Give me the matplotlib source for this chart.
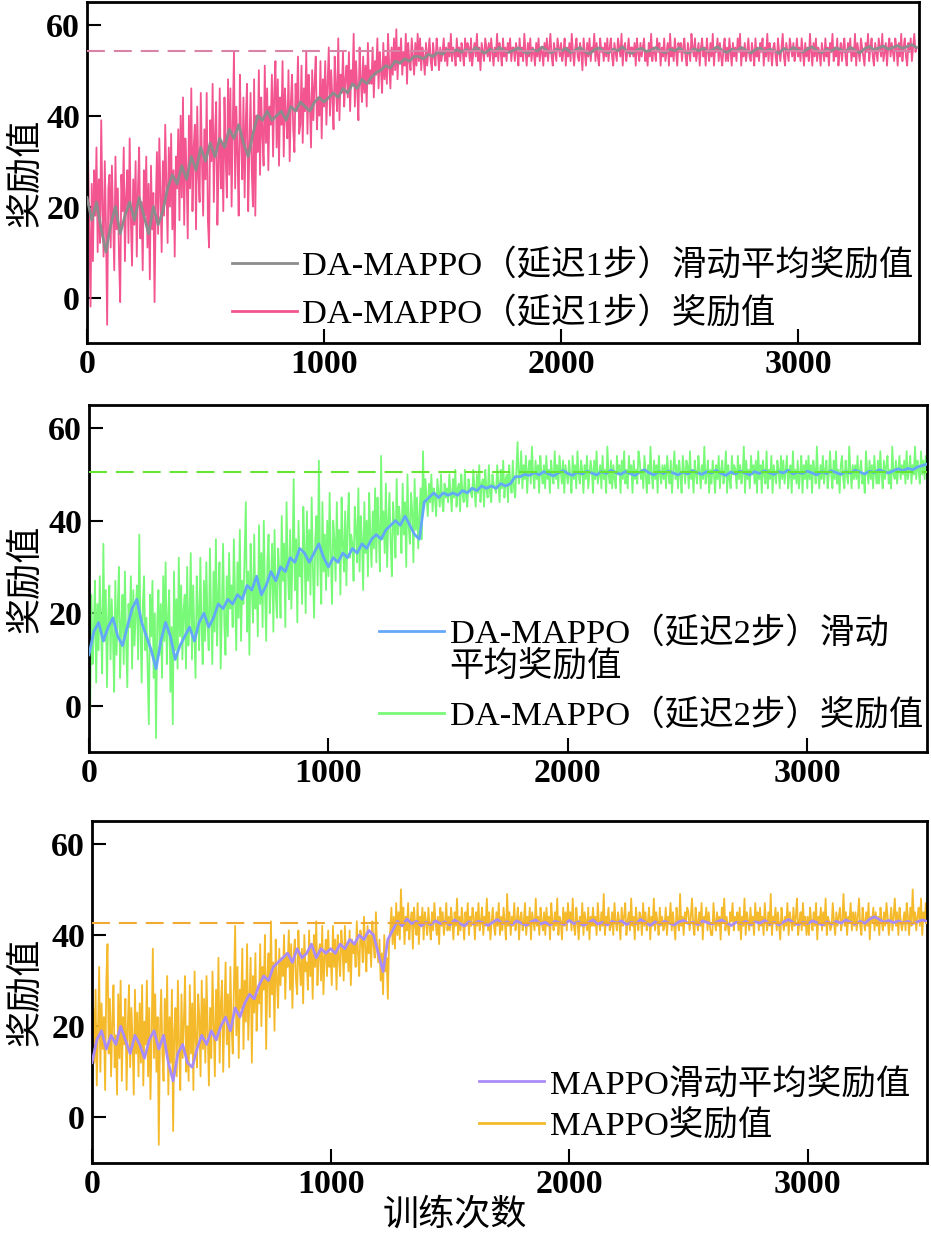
import numpy as np
import matplotlib
matplotlib.use("Agg")
import matplotlib.pyplot as plt
from matplotlib.legend_handler import HandlerLine2D

# ---------------- data ----------------
steps_raw = np.arange(0, 3501, 5)
steps_ma = np.arange(0, 3501, 20)

raw1 = [
    22, 30, 14, -2, 25, 8, 28, 18, 33, 10, 26, 12, 39, 20, 9, 30, 16, -6, 24, 27,
    11, 29, 18, 6, 31, 15, 24, 9, -1, 27, 19, 33, 8, 22, 28, 12, 35, 17, 7, 26,
    16, 30, 9, 24, 33, 13, 21, 6, 28, 18, 31, 11, 25, 4, 29, 15, 23, -1, 20, 32,
    14, 35, 22, 10, 30, 18, 38, 25, 12, 33, 20, 36, 15, 28, 9, 31, 24, 37, 17, 40,
    22, 44, 16, 35, 28, 13, 40, 24, 46, 19, 33, 38, 15, 42, 27, 21, 45, 30, 18, 37,
    26, 45, 17, 11, 39, 30, 47, 21, 36, 43, 16, 28, 46, 24, 34, 19, 44, 31, 22, 48,
    27, 46, 20, 38, 54, 24, 42, 31, 18, 49, 35, 26, 44, 22, 39, 47, 19, 33, 45, 28,
    20, 48, 18, 40, 32, 50, 27, 44, 36, 29, 51, 34, 46, 28, 42, 38, 49, 31, 45, 52,
    33, 48, 29, 44, 38, 52, 31, 46, 40, 35, 50, 30, 43, 49, 37, 32, 47, 41, 53, 36,
    38, 51, 34, 46, 41, 54, 36, 49, 43, 33, 50, 39, 47, 53, 37, 44, 40, 52, 35, 48,
    42, 52, 38, 47, 55, 40, 50, 44, 37, 53, 46, 41, 57, 39, 49, 45, 54, 42, 48, 51,
    44, 54, 41, 50, 47, 58, 42, 52, 46, 39, 55, 48, 43, 53, 45, 51, 42, 56, 47, 50,
    47, 55, 44, 52, 49, 57, 46, 54, 50, 45, 56, 48, 53, 47, 58, 51, 46, 55, 49, 57,
    50, 59, 48, 55, 52, 57, 49, 54, 51, 58, 47, 56, 52, 50, 57, 53, 49, 56, 51, 58,
    52, 57, 50, 55, 53, 49, 56, 51, 54, 57, 52, 50, 56, 53, 51, 57, 54, 50, 55, 52,
    54, 57, 52, 55, 51, 56, 53, 58, 52, 55, 54, 51, 57, 53, 55, 52, 56, 54, 51, 57,
    53, 56, 55, 52, 57, 51, 54, 56, 53, 58, 52, 55, 50, 56, 54, 52, 57, 55, 53, 56,
    52, 57, 54, 51, 55, 53, 58, 52, 56, 54, 51, 57, 53, 55, 52, 56, 54, 57, 52, 55,
    55, 52, 56, 54, 51, 57, 53, 55, 52, 58, 54, 51, 56, 53, 57, 52, 55, 54, 51, 56,
    53, 57, 52, 55, 54, 51, 56, 53, 57, 52, 55, 58, 53, 51, 56, 54, 52, 57, 55, 53,
    56, 52, 54, 57, 51, 55, 53, 56, 52, 58, 54, 51, 55, 57, 53, 52, 56, 54, 50, 57,
    54, 51, 56, 53, 57, 52, 55, 54, 58, 52, 56, 53, 51, 57, 54, 55, 52, 56, 53, 57,
    52, 55, 57, 53, 51, 56, 54, 52, 57, 55, 53, 58, 51, 55, 56, 52, 54, 57, 53, 55,
    55, 53, 56, 51, 57, 54, 52, 56, 53, 55, 57, 52, 54, 51, 56, 53, 58, 52, 55, 54,
    52, 57, 54, 56, 51, 55, 53, 57, 52, 54, 56, 51, 58, 53, 55, 52, 57, 54, 51, 56,
    54, 56, 52, 55, 57, 53, 51, 56, 54, 52, 58, 55, 53, 57, 52, 54, 56, 51, 55, 57,
    53, 55, 51, 57, 54, 52, 56, 53, 58, 51, 55, 54, 57, 52, 56, 53, 51, 55, 57, 52,
    55, 52, 57, 54, 51, 56, 53, 55, 52, 57, 54, 58, 51, 55, 53, 56, 52, 54, 57, 53,
    52, 56, 54, 51, 57, 53, 55, 52, 56, 54, 57, 51, 55, 53, 58, 52, 56, 54, 51, 55,
    56, 53, 51, 57, 54, 52, 55, 58, 53, 51, 56, 54, 52, 57, 55, 53, 56, 52, 54, 57,
    53, 55, 52, 57, 54, 51, 56, 53, 55, 52, 58, 54, 51, 56, 53, 57, 52, 55, 54, 51,
    56, 54, 52, 57, 53, 55, 51, 56, 54, 58, 52, 55, 53, 57, 51, 54, 56, 52, 55, 57,
    53, 51, 56, 54, 57, 52, 55, 53, 58, 51, 56, 54, 52, 57, 55, 53, 51, 56, 54, 58,
    52, 55, 57, 53, 51, 56, 54, 52, 57, 55, 53, 58, 52, 54, 56, 51, 55, 57, 53, 56,
    54, 52, 57, 55, 51, 56, 53, 58, 52, 55, 57, 53, 51, 56, 54, 57, 52, 55, 58, 54,
    55,
]

ma1 = [
    22, 17, 21, 15, 10, 16, 20, 14, 18, 21,
    17, 22, 18, 14, 20, 16, 19, 24, 27, 25,
    29, 26, 31, 28, 33, 30, 34, 31, 35, 33,
    37, 35, 38, 34, 31, 36, 40, 39, 41, 39,
    40, 41, 39, 42, 41, 43, 42, 41, 43, 44,
    43, 44, 45, 44, 46, 45, 47, 46, 48, 47,
    48.5, 49.5, 50, 51, 50.5, 52, 51.5, 52.5, 52, 53,
    53, 52.5, 53.5, 53, 54, 53.5, 54.5, 54, 54.5, 54,
    54.5, 54, 55, 54.2, 53.8, 54.6, 54.1, 55, 54.3, 53.9,
    54.4, 54.9, 54.1, 53.7, 54.5, 54.2, 55.1, 54.3, 53.8, 54.6,
    54.2, 54.8, 53.9, 54.4, 55, 54.1, 53.6, 54.5, 54.9, 54.2,
    53.8, 54.6, 54.3, 55.1, 54, 53.7, 54.5, 54.8, 54.1, 54.4,
    55, 54.2, 53.9, 54.6, 54.3, 54.9, 54, 53.8, 54.7, 54.3,
    54.8, 54.1, 54.5, 55.2, 54.3, 53.9, 54.6, 54.2, 55, 54.4,
    53.8, 54.5, 54.9, 54.1, 54.6, 54.3, 53.7, 54.8, 54.2, 55,
    54.4, 54, 54.7, 55.1, 54.3, 53.9, 54.6, 54.2, 54.9, 54.5,
    54.1, 55, 54.4, 53.8, 54.7, 55.2, 54.5, 54.9, 55.3, 54.6,
    55, 55.4, 54.8, 55.2, 55.6, 55,
]

raw2 = [
    20, -1, 24, 9, 16, 27, 5, 22, 12, 28, 18, 7, 35, 14, 25, 4, 19, 26, 10, 23,
    15, 3, 27, 11, 21, 30, 6, 18, 24, 9, 29, 14, 4, 22, 17, 28, 8, 25, 13, 20,
    26, 10, 37, 16, 5, 22, 28, 12, 19, 8, -4, 24, 15, 27, 6, 20, -7, 18, 25, 11,
    22, 6, 28, 14, 31, 9, 19, 25, 3, 17, -4, 29, 12, 23, 8, 32, 15, 26, 10, 21,
    24, 8, 30, 13, 19, 33, 10, 26, 16, 6, 28, 21, 12, 32, 17, 9, 27, 14, 31, 18,
    12, 34, 20, 9, 29, 16, 36, 13, 24, 31, 8, 22, 35, 18, 11, 28, 15, 33, 21, 26,
    17, 36, 24, 12, 31, 19, 38, 14, 27, 22, 33, 44, 16, 29, 11, 35, 25, 18, 37, 21,
    28, 15, 39, 22, 33, 17, 40, 25, 14, 31, 37, 20, 27, 35, 16, 38, 24, 19, 34, 29,
    19, 41, 27, 35, 17, 44, 30, 23, 38, 21, 32, 49, 25, 36, 18, 40, 28, 33, 22, 43,
    34, 20, 42, 27, 38, 24, 45, 30, 19, 36, 41, 26, 53, 32, 22, 44, 29, 37, 25, 40,
    28, 46, 33, 22, 40, 36, 27, 44, 31, 38, 24, 45, 35, 29, 42, 26, 39, 46, 32, 37,
    35, 27, 43, 38, 31, 47, 29, 41, 36, 25, 44, 33, 40, 28, 46, 37, 30, 42, 34, 47,
    31, 45, 38, 29, 54, 36, 42, 33, 48, 30, 40, 46, 35, 28, 44, 39, 32, 49, 37, 43,
    40, 33, 48, 37, 44, 30, 50, 39, 35, 46, 42, 31, 49, 38, 45, 34, 41, 47, 36, 55,
    43, 49, 45, 41, 48, 44, 50, 42, 47, 45, 41, 49, 46, 43, 50, 44, 42, 48, 45, 47,
    44, 50, 46, 42, 49, 45, 51, 43, 47, 48, 42, 50, 46, 44, 51, 45, 43, 49, 47, 46,
    45, 51, 47, 43, 50, 46, 52, 44, 48, 49, 43, 51, 47, 45, 52, 46, 44, 50, 48, 47,
    46, 52, 48, 44, 51, 47, 53, 45, 49, 50, 44, 52, 48, 46, 53, 47, 45, 51, 57, 48,
    50, 55, 47, 52, 49, 54, 46, 51, 53, 48, 56, 50, 47, 53, 49, 52, 46, 54, 50, 48,
    52, 47, 54, 49, 51, 46, 53, 50, 48, 55, 49, 52, 47, 54, 51, 48, 53, 46, 52, 50,
    48, 53, 50, 46, 54, 49, 52, 47, 55, 50, 48, 53, 51, 46, 52, 49, 54, 47, 50, 53,
    51, 46, 53, 49, 55, 48, 50, 52, 47, 54, 49, 51, 46, 56, 50, 48, 53, 47, 52, 49,
    47, 54, 50, 52, 46, 53, 49, 55, 48, 51, 47, 54, 50, 52, 46, 53, 49, 51, 48, 55,
    53, 49, 51, 47, 54, 50, 46, 52, 48, 56, 50, 47, 53, 49, 52, 46, 54, 50, 48, 52,
    49, 52, 47, 54, 50, 48, 53, 46, 51, 55, 49, 52, 47, 53, 50, 46, 54, 51, 48, 53,
    52, 47, 55, 49, 51, 46, 53, 50, 48, 54, 51, 47, 52, 49, 56, 48, 50, 53, 46, 51,
    48, 53, 50, 46, 52, 49, 54, 47, 51, 53, 48, 50, 55, 46, 52, 49, 47, 54, 50, 52,
    51, 47, 54, 49, 52, 48, 50, 56, 46, 53, 49, 51, 47, 54, 50, 52, 48, 53, 46, 55,
    49, 52, 46, 53, 50, 48, 55, 47, 51, 49, 54, 46, 52, 50, 48, 53, 51, 47, 54, 49,
    53, 48, 51, 54, 47, 50, 52, 46, 55, 49, 51, 48, 53, 47, 50, 54, 46, 52, 49, 53,
    47, 54, 49, 52, 46, 53, 51, 48, 56, 50, 47, 52, 49, 54, 48, 51, 53, 47, 50, 55,
    50, 47, 53, 49, 55, 48, 51, 46, 52, 54, 49, 47, 53, 50, 48, 56, 51, 47, 52, 49,
    52, 49, 54, 47, 51, 53, 48, 50, 46, 55, 51, 48, 53, 49, 52, 47, 54, 50, 48, 53,
    48, 55, 50, 47, 53, 49, 52, 54, 48, 51, 47, 56, 50, 49, 53, 48, 51, 54, 49, 52,
    50, 53, 48, 55, 49, 51, 54, 48, 52, 50, 56, 49, 53, 51, 48, 55, 50, 53, 49, 54,
    52,
]

ma2 = [
    11, 16, 18, 14, 17, 19, 15, 13, 17, 21,
    23, 18, 15, 12, 8, 14, 18, 15, 10, 13,
    15, 17, 14, 18, 20, 17, 19, 22, 21, 23,
    22, 24, 23, 26, 25, 28, 24, 26, 29, 27,
    30, 29, 32, 31, 34, 33, 31, 33, 35, 32,
    30, 32, 31, 33, 32, 34, 33, 35, 34, 36,
    37, 36, 38, 39, 40, 39, 41, 39, 37, 36,
    44, 45, 46, 45, 46, 45.5, 46, 45.5, 46.5, 46,
    47, 46.5, 47.5, 47, 47.5, 47, 48, 47.5, 48, 49.5,
    49.5, 50, 49.8, 50.4, 49.9, 50.6, 50.1, 49.7, 50.3, 50.8,
    50.2, 49.8, 50.5, 50.1, 50.7, 50.3, 49.9, 50.6, 50.2, 50.9,
    50.4, 50, 50.6, 50.2, 49.8, 50.5, 51, 50.3, 49.9, 50.6,
    50.2, 50.7, 50.3, 49.9, 50.5, 50.1, 50.8, 50.4, 50, 50.6,
    50.3, 50.9, 50.2, 49.8, 50.5, 50.1, 50.7, 50.3, 49.9, 50.6,
    50.2, 50.8, 50.4, 50, 50.6, 50.3, 50.9, 50.1, 50.5, 50.2,
    50.7, 50.3, 49.9, 50.6, 50.2, 50.8, 50.4, 50, 50.6, 50.3,
    50.9, 50.5, 50.1, 50.7, 50.4, 51, 50.6, 50.3, 50.8, 51.2,
    50.8, 51.3, 51, 51.6, 51.9, 52.2,
]

raw3 = [
    -1, 24, 12, 28, 7, 19, 33, 10, 25, 15, 22, 6, 30, 38, 14, 26, 9, 21, 29, 11,
    18, 5, 27, 13, 30, 8, 22, 16, 26, 6, 20, 29, 11, 24, 17, 5, 28, 14, 23, 9,
    25, 12, 29, 7, 21, 16, 30, 9, 24, 4, 18, 37, 13, 27, 10, 22, -6, 19, 28, 14,
    8, 26, 15, 31, 5, 22, 12, 28, -3, 19, 24, 9, 30, 16, 6, 27, 13, 21, 31, 10,
    20, 8, 29, 14, 25, 6, 32, 17, 11, 27, 22, 9, 30, 15, 26, 12, 31, 19, 7, 24,
    13, 32, 21, 9, 28, 17, 35, 12, 25, 30, 10, 23, 34, 16, 27, 11, 33, 20, 14, 29,
    42, 18, 33, 13, 28, 24, 37, 15, 30, 21, 38, 17, 26, 35, 12, 31, 23, 36, 19, 27,
    25, 38, 20, 33, 28, 40, 15, 31, 36, 22, 43, 27, 34, 19, 39, 30, 24, 37, 29, 35,
    31, 40, 26, 36, 33, 41, 28, 38, 24, 35, 39, 30, 27, 41, 34, 29, 37, 25, 40, 32,
    34, 28, 41, 31, 37, 26, 40, 33, 43, 29, 36, 38, 30, 42, 27, 35, 39, 31, 41, 33,
    36, 29, 42, 33, 39, 28, 40, 35, 31, 41, 37, 30, 42, 34, 38, 32, 41, 29, 39, 36,
    38, 33, 43, 36, 31, 41, 39, 34, 44, 37, 32, 42, 36, 40, 33, 43, 38, 35, 45, 37,
    34, 39, 30, 36, 27, 40, 32, 35, 26, 38, 41, 46, 38, 44, 37, 47, 40, 45, 39, 50,
    42, 46, 38, 44, 41, 47, 39, 43, 45, 37, 46, 42, 40, 47, 38, 44, 42, 46, 39, 45,
    43, 40, 46, 42, 39, 45, 41, 47, 43, 40, 44, 38, 46, 42, 45, 40, 43, 47, 41, 44,
    41, 46, 43, 39, 45, 42, 48, 40, 44, 41, 46, 43, 39, 45, 42, 47, 40, 44, 42, 46,
    44, 39, 45, 42, 47, 41, 43, 46, 40, 44, 42, 48, 41, 45, 39, 43, 46, 42, 40, 45,
    42, 47, 40, 44, 41, 46, 43, 39, 49, 42, 45, 40, 44, 42, 47, 41, 43, 46, 39, 44,
    45, 41, 43, 47, 40, 44, 42, 46, 39, 45, 43, 41, 48, 42, 44, 40, 46, 43, 41, 45,
    40, 46, 42, 44, 39, 47, 43, 41, 45, 42, 48, 40, 44, 43, 39, 46, 42, 45, 41, 47,
    43, 45, 41, 48, 42, 40, 46, 43, 39, 44, 42, 47, 40, 45, 43, 41, 46, 39, 44, 42,
    46, 42, 44, 40, 47, 43, 41, 45, 42, 49, 40, 44, 43, 46, 41, 42, 45, 40, 47, 43,
    41, 45, 43, 39, 46, 42, 44, 47, 40, 43, 45, 41, 48, 42, 44, 39, 46, 43, 41, 45,
    44, 40, 47, 42, 45, 41, 43, 46, 39, 44, 42, 48, 41, 45, 43, 40, 46, 42, 44, 41,
    42, 46, 40, 44, 43, 47, 41, 45, 42, 39, 46, 43, 41, 49, 42, 44, 40, 45, 43, 46,
    45, 41, 44, 48, 42, 40, 46, 43, 41, 45, 42, 47, 39, 44, 43, 46, 41, 45, 42, 40,
    40, 47, 43, 41, 45, 42, 44, 39, 46, 43, 48, 41, 44, 42, 40, 45, 43, 47, 41, 44,
    43, 45, 41, 46, 39, 44, 42, 48, 40, 45, 43, 41, 46, 42, 44, 40, 47, 43, 45, 41,
    46, 42, 44, 40, 47, 43, 41, 45, 42, 49, 40, 44, 43, 46, 41, 45, 42, 39, 46, 43,
    41, 44, 42, 47, 40, 45, 43, 41, 46, 42, 44, 48, 40, 43, 45, 41, 47, 42, 44, 40,
    44, 40, 46, 43, 41, 45, 42, 47, 39, 44, 43, 46, 41, 45, 42, 48, 40, 44, 43, 41,
    42, 47, 43, 40, 45, 42, 44, 46, 41, 43, 49, 42, 45, 40, 44, 43, 47, 41, 45, 42,
    45, 41, 44, 48, 42, 40, 46, 43, 41, 45, 42, 47, 39, 44, 43, 46, 41, 45, 42, 44,
    40, 46, 43, 41, 45, 42, 47, 44, 40, 43, 46, 41, 44, 48, 42, 45, 40, 46, 43, 41,
    43, 45, 41, 47, 44, 40, 46, 42, 50, 43, 45, 41, 44, 46, 42, 48, 40, 45, 43, 47,
    43,
]

ma3 = [
    12, 17, 19, 15, 18, 16, 20, 17, 14, 18,
    16, 13, 17, 19, 15, 18, 12, 8, 14, 16,
    12, 11, 15, 18, 16, 19, 17, 20, 22, 19,
    24, 22, 25, 27, 26, 29, 31, 30, 33, 34,
    35, 36, 34, 37, 35, 36, 38, 35, 37, 36,
    37, 36, 38, 37, 39, 38, 40, 39, 41, 40,
    36, 32, 39, 41, 43, 42, 43.5, 42.5, 43, 42,
    42.8, 42.3, 43.1, 42.5, 42.9, 42.2, 43.3, 42.6, 42, 42.9,
    42.4, 43, 42.7, 42.1, 42.8, 43.4, 42.5, 42.9, 42.3, 43.1,
    42.6, 42.1, 42.9, 43.3, 42.4, 42.8, 42.2, 43, 42.7, 42.3,
    43.2, 42.5, 42.9, 42.1, 42.7, 43.3, 42.4, 42.8, 42.2, 43,
    42.6, 43.1, 42.3, 42.8, 42.5, 43.4, 42.7, 42.1, 42.9, 42.4,
    43, 42.6, 42.2, 42.9, 43.2, 42.5, 42.8, 42.3, 43.1, 42.7,
    42.4, 42.9, 43.3, 42.6, 42.1, 42.8, 42.5, 43, 42.3, 42.9,
    42.6, 43.2, 42.4, 42.8, 42.2, 42.9, 43.4, 42.7, 42.3, 42.8,
    42.5, 43.1, 42.7, 42.2, 42.9, 42.4, 43, 42.6, 43.3, 42.8,
    42.4, 43, 42.6, 43.5, 44, 43.4, 42.8, 43.2, 42.7, 43.1,
    42.6, 43, 42.5, 42.9, 43.3, 43,
]

ref_levels = [54.3, 50.5, 42.7]

labels_ma = ["DA-MAPPO（延迟1步）滑动平均奖励值",
             "DA-MAPPO（延迟2步）滑动\n平均奖励值",
             "MAPPO滑动平均奖励值"]
labels_raw = ["DA-MAPPO（延迟1步）奖励值",
              "DA-MAPPO（延迟2步）奖励值",
              "MAPPO奖励值"]
ylabel = "奖励值"
xlabel = "训练次数"
xticks = [0, 1000, 2000, 3000]
yticks = [0, 20, 40, 60]

# ---------------- styles ----------------
raw_colors = ["#F25590", "#78FA78", "#F4BA2C"]
ma_colors = ["#8C8C8C", "#64A8F8", "#A98CF8"]
dash_colors = ["#D884A8", "#66E633", "#F0AA33"]

positions = [
    [87 / 931, 1 - 343 / 1234, 832 / 931, 341 / 1234],
    [89 / 931, 1 - 752 / 1234, 838 / 931, 347 / 1234],
    [92 / 931, 1 - 1163 / 1234, 835 / 931, 342 / 1234],
]
xmaxes = [3510, 3500, 3500]
legend_anchor = [(0.174, 0.275), (0.346, 0.39), (0.4635, 0.278)]
legend_spacing = [0.44, 0.47, 0.27]
ylabel_x = [-0.0745, -0.076, -0.080]

FS = 24.5
LFS = 24.8
YLFS = 26
serif_cjk = ["Liberation Serif", "Noto Sans CJK SC"]
plt.rcParams["font.size"] = FS
plt.rcParams["font.family"] = serif_cjk


class TopHandler(HandlerLine2D):
    """Legend handle aligned with the first line of a two-line label."""
    def __init__(self, shift, **kw):
        super().__init__(**kw)
        self.shift = shift

    def create_artists(self, legend, orig_handle, xdescent, ydescent,
                       width, height, fontsize, trans):
        arts = super().create_artists(legend, orig_handle, xdescent, ydescent,
                                      width, height, fontsize, trans)
        for a in arts:
            yd = np.asarray(a.get_ydata(), dtype=float)
            a.set_ydata(yd + self.shift)
        return arts


fig = plt.figure(figsize=(9.31, 12.34), dpi=100)

for i in range(3):
    ax = fig.add_axes(positions[i])
    raw = [raw1, raw2, raw3][i]
    ma = [ma1, ma2, ma3][i]
    l_raw, = ax.plot(steps_raw, raw, color=raw_colors[i], lw=1.3, zorder=2,
                     label=labels_raw[i])
    l_ma, = ax.plot(steps_ma, ma, color=ma_colors[i], lw=2.0, zorder=3,
                    label=labels_ma[i])
    ax.plot([0, 3500], [ref_levels[i], ref_levels[i]], color=dash_colors[i],
            lw=1.5, ls=(0, (8.6, 4.3)), zorder=4)

    ax.set_xlim(0, xmaxes[i])
    ax.set_ylim(-10, 65)
    ax.set_xticks(xticks)
    ax.set_yticks(yticks)
    ax.tick_params(direction="in", length=10, width=1.5, top=False, right=False)
    ax.tick_params(axis="y", pad=5)
    ax.tick_params(axis="x", pad=4)
    for lab in ax.get_xticklabels() + ax.get_yticklabels():
        lab.set_fontfamily("Liberation Serif")
        lab.set_fontweight("bold")
        lab.set_fontsize(FS)
    for sp in ax.spines.values():
        sp.set_linewidth(2)

    ax.set_ylabel(ylabel, family="Noto Sans CJK SC", fontsize=YLFS)
    ax.yaxis.label.set_va("center")
    ax.yaxis.set_label_coords(ylabel_x[i], 0.5)

    hmap = {}
    if "\n" in labels_ma[i]:
        hmap = {l_ma: TopHandler(shift=LFS * 0.545)}
    leg = ax.legend(handles=[l_ma, l_raw], loc="upper left",
                    bbox_to_anchor=legend_anchor[i], frameon=False,
                    borderpad=0, borderaxespad=0, handlelength=1.9,
                    handletextpad=0.15, labelspacing=legend_spacing[i],
                    fontsize=LFS, handler_map=hmap)
    for t in leg.get_texts():
        t.set_linespacing(1.05)
    for lh in leg.get_lines():
        lh.set_linewidth(2.0)

    if i == 2:
        ax.set_xlabel(xlabel, family="Noto Sans CJK SC", fontsize=YLFS)
        ax.xaxis.set_label_coords(0.435, -0.152)
        ax.xaxis.label.set_va("center")

fig.savefig("out.png", dpi=100)
